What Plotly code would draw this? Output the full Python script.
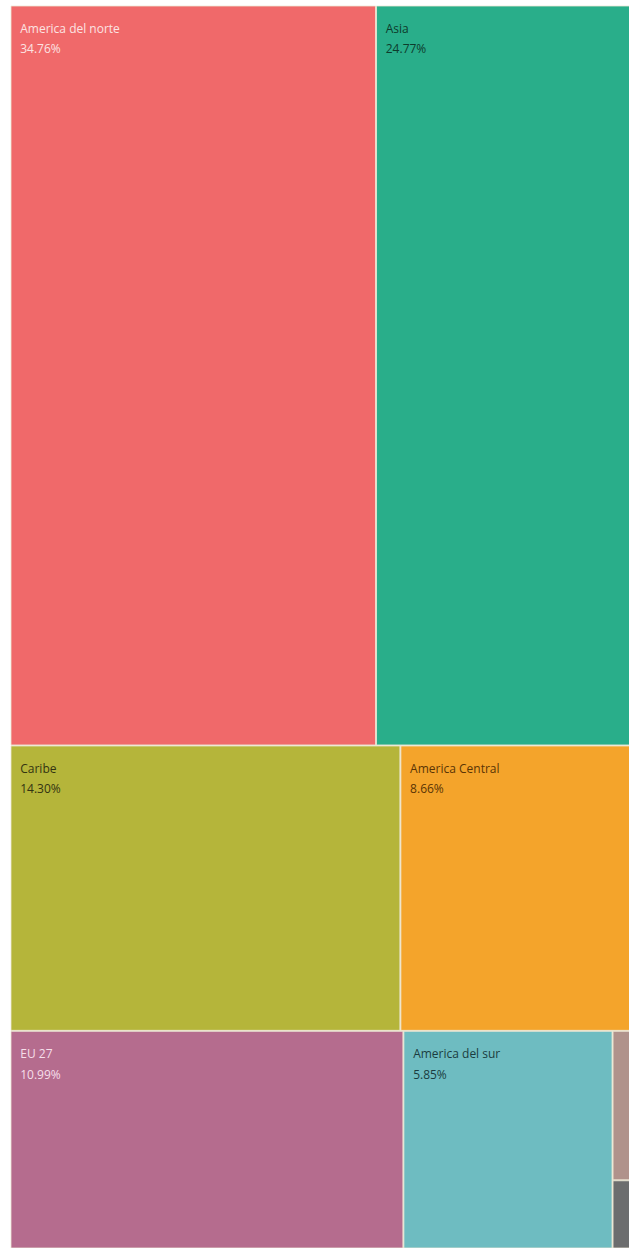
import plotly.graph_objects as go

# Data
regions = ["America del norte", "Asia", "Caribe", "America Central",
           "EU 27", "America del sur", "Africa", "Oceania"]
shares = [34.76, 24.77, 14.30, 8.66, 10.99, 5.85, 0.46, 0.21]
# grouping used for the tiled layout (rows of the treemap)
groups = ["fila1", "fila1", "fila2", "fila2", "fila3", "fila3", "resto", "resto"]
group_names = ["fila1", "fila2", "fila3", "resto"]
group_parents = ["Total", "Total", "Total", "fila3"]
colors = ["#F0696A", "#29AE8A", "#B5B53A", "#F4A42B",
          "#B56C8E", "#6EBCC1", "#B0928B", "#6C6D6E"]
text_colors = ["#FCE3E2", "#0E3B2C", "#333312", "#5A3405",
               "#F6DFEA", "#1B3C40", "#000000", "#000000"]
show_text = [True, True, True, True, True, True, False, False]
BORDER = "#EEE9D6"
NB = "\u00a0\u00a0"

ids, parents, values, texts, mcolors, tcolors, lwidth = [], [], [], [], [], [], []


def add_node(i, p, v, t, mc, tc, lw):
    ids.append(i); parents.append(p); values.append(v); texts.append(t)
    mcolors.append(mc); tcolors.append(tc); lwidth.append(lw)


def add_group(g):
    gi = group_names.index(g)
    add_node(g, group_parents[gi], 0, "", BORDER, "#000000", 0)
    for k, r in enumerate(regions):
        if groups[k] == g:
            if show_text[k]:
                t = (f"\u00a0<br><sup><span style='font-size:12px'>{NB}{r}</span></sup>"
                     f"<br>{NB}{shares[k]:.2f}%")
            else:
                t = ""
            add_node(r, g, shares[k], t, colors[k], text_colors[k], 0.8)
    for gj, gn in enumerate(group_names):
        if group_parents[gj] == g:
            add_group(gn)


add_node("Total", "", 0, "", BORDER, "#000000", 0)
for gi, g in enumerate(group_names):
    if group_parents[gi] == "Total":
        add_group(g)

fig = go.Figure(go.Treemap(
    ids=ids, labels=ids, parents=parents, values=values,
    branchvalues="remainder", sort=False,
    text=texts, textinfo="text",
    textposition="top left",
    textfont=dict(family="Open Sans", size=12, color=tcolors),
    marker=dict(colors=mcolors, line=dict(color=BORDER, width=lwidth),
                pad=dict(t=0, l=0, r=0, b=0)),
    tiling=dict(packing="dice-slice", pad=1),
    pathbar=dict(visible=False),
    hovertemplate="%{label}<extra></extra>",
))
fig.update_layout(width=636, height=1248, margin=dict(l=11, r=0, t=6, b=0),
                  paper_bgcolor="white")
fig.write_html("out.html", config={"displayModeBar": False},
               post_script="document.body.style.margin='0';document.body.style.overflow='hidden';")
